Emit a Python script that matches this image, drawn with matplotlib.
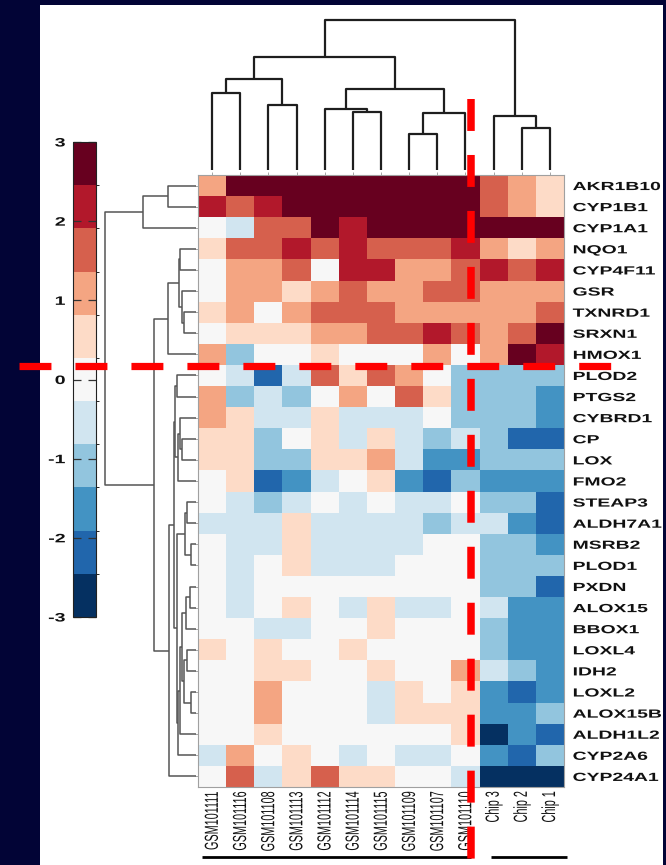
import numpy as np
import matplotlib
matplotlib.use("Agg")
import matplotlib.pyplot as plt
from matplotlib.colors import ListedColormap, BoundaryNorm
from matplotlib.cm import ScalarMappable
from matplotlib.patches import Rectangle
from matplotlib.patheffects import AbstractPathEffect
from matplotlib.transforms import Affine2D

plt.rcParams['font.family'] = ['Liberation Sans', 'DejaVu Sans']
plt.rcParams['lines.scale_dashes'] = False

# ---------------- data ----------------
samples = ["GSM101111", "GSM101116", "GSM101108", "GSM101113", "GSM101112",
           "GSM101114", "GSM101115", "GSM101109", "GSM101107", "GSM101110",
           "Chip 3", "Chip 2", "Chip 1"]
genes = ["AKR1B10", "CYP1B1", "CYP1A1", "NQO1", "CYP4F11", "GSR", "TXNRD1",
         "SRXN1", "HMOX1", "PLOD2", "PTGS2", "CYBRD1", "CP", "LOX", "FMO2",
         "STEAP3", "ALDH7A1", "MSRB2", "PLOD1", "PXDN", "ALOX15", "BBOX1",
         "LOXL4", "IDH2", "LOXL2", "ALOX15B", "ALDH1L2", "CYP2A6", "CYP24A1"]
values = [
    [1.1, 2.7, 2.7, 2.7, 2.7, 2.7, 2.7, 2.7, 2.7, 2.7, 1.6, 1.1, 0.5],
    [2.2, 1.6, 2.2, 2.7, 2.7, 2.7, 2.7, 2.7, 2.7, 2.7, 1.6, 1.1, 0.5],
    [0.0, -0.5, 1.6, 1.6, 2.7, 2.2, 2.7, 2.7, 2.7, 2.7, 2.7, 2.7, 2.7],
    [0.5, 1.6, 1.6, 2.2, 1.6, 2.2, 1.6, 1.6, 1.6, 2.2, 1.1, 0.5, 1.1],
    [0.0, 1.1, 1.1, 1.6, 0.0, 2.2, 2.2, 1.1, 1.1, 1.6, 2.2, 1.6, 2.2],
    [0.0, 1.1, 1.1, 0.5, 1.1, 1.6, 1.1, 1.1, 1.6, 1.6, 1.1, 1.1, 1.1],
    [0.5, 1.1, 0.0, 1.1, 1.6, 1.6, 1.6, 1.1, 1.1, 1.1, 1.1, 1.1, 1.6],
    [0.0, 0.5, 0.5, 0.5, 1.1, 1.1, 1.6, 1.6, 2.2, 1.6, 1.1, 1.6, 2.7],
    [1.1, -1.1, 0.0, 0.0, 0.5, 0.0, 0.0, 0.0, 1.1, 0.0, 1.1, 2.7, 2.2],
    [0.0, -0.5, -2.2, -0.5, 1.6, 0.5, 1.6, 1.1, 0.0, -1.1, -1.1, -1.1, -1.1],
    [1.1, -1.1, -0.5, -1.1, 0.0, 1.1, 0.0, 1.6, 0.5, -1.1, -1.1, -1.1, -1.6],
    [1.1, 0.5, -0.5, -0.5, 0.5, -0.5, -0.5, -0.5, 0.0, -1.1, -1.1, -1.1, -1.6],
    [0.5, 0.5, -1.1, 0.0, 0.5, -0.5, 0.5, -0.5, -1.1, -0.5, -1.1, -2.2, -2.2],
    [0.5, 0.5, -1.1, -1.1, 0.5, 0.5, 1.1, -0.5, -1.6, -1.6, -1.1, -1.1, -1.1],
    [0.0, 0.5, -2.2, -1.6, -0.5, 0.0, 0.5, -1.6, -2.2, -1.1, -1.6, -1.6, -1.6],
    [0.0, -0.5, -1.1, -0.5, 0.0, -0.5, 0.0, -0.5, -0.5, 0.0, -1.1, -1.1, -2.2],
    [-0.5, -0.5, -0.5, 0.5, -0.5, -0.5, -0.5, -0.5, -1.1, -0.5, -0.5, -1.6, -2.2],
    [0.0, -0.5, -0.5, 0.5, -0.5, -0.5, -0.5, -0.5, 0.0, 0.0, -1.1, -1.1, -1.6],
    [0.0, -0.5, 0.0, 0.5, -0.5, -0.5, -0.5, 0.0, 0.0, 0.0, -1.1, -1.1, -1.1],
    [0.0, -0.5, 0.0, 0.0, 0.0, 0.0, 0.0, 0.0, 0.0, 0.0, -1.1, -1.1, -2.2],
    [0.0, -0.5, 0.0, 0.5, 0.0, -0.5, 0.5, -0.5, -0.5, 0.0, -0.5, -1.6, -1.6],
    [0.0, 0.0, -0.5, -0.5, 0.0, 0.0, 0.5, 0.0, 0.0, 0.0, -1.1, -1.6, -1.6],
    [0.5, 0.0, 0.5, 0.0, 0.0, 0.5, 0.0, 0.0, 0.0, 0.0, -1.1, -1.6, -1.6],
    [0.0, 0.0, 0.5, 0.5, 0.0, 0.0, 0.5, 0.0, 0.0, 1.1, -0.5, -1.1, -1.6],
    [0.0, 0.0, 1.1, 0.0, 0.0, 0.0, -0.5, 0.5, 0.0, 0.5, -1.6, -2.2, -1.6],
    [0.0, 0.0, 1.1, 0.0, 0.0, 0.0, -0.5, 0.5, 0.5, 0.5, -1.6, -1.6, -1.1],
    [0.0, 0.0, 0.5, 0.0, 0.0, 0.0, 0.0, 0.0, 0.0, 0.5, -2.7, -1.6, -2.2],
    [-0.5, 1.1, 0.0, 0.5, 0.0, -0.5, 0.0, -0.5, -0.5, 0.0, -1.6, -2.2, -1.1],
    [0.0, 1.6, -0.5, 0.5, 1.6, 0.5, 0.5, 0.0, 0.0, -0.5, -2.7, -2.7, -2.7],
]
# dendrogram merges: (child_a, child_b, height); leaves first, internal nodes numbered after
col_merges = [(0, 1, 77), (2, 3, 65), (13, 14, 91), (5, 6, 58), (4, 16, 61),
              (7, 8, 36), (18, 9, 57), (17, 19, 81), (15, 20, 113),
              (11, 12, 42), (10, 22, 54), (21, 23, 150)]
row_merges = [(0, 1, 28.3), (29, 2, 52.7), (3, 4, 16), (6, 7, 12), (5, 32, 14),
              (31, 33, 17), (34, 8, 28.3), (9, 10, 19.3), (12, 13, 13.7),
              (11, 37, 15.7), (38, 14, 17.7), (36, 39, 21), (15, 16, 9.3),
              (17, 18, 5.3), (41, 42, 11), (19, 20, 6), (44, 21, 10),
              (22, 23, 9.3), (24, 25, 5.3), (46, 47, 12), (45, 48, 13.5),
              (49, 26, 16), (50, 27, 17.5), (43, 51, 19), (40, 52, 22.3),
              (53, 28, 27), (35, 54, 41.7), (30, 55, 91)]
cbar_ticks = [-3, -2, -1, 0, 1, 2, 3]
palette = ["#053061", "#2166ac", "#4393c3", "#92c5de", "#d1e5f0", "#f7f7f7",
           "#fddbc7", "#f4a582", "#d6604d", "#b2182b", "#67001f"]


class Stretch(AbstractPathEffect):
    """Stretch glyph outlines of a text (text stays a Text artist)."""
    def __init__(self, sx=1.0, sy=1.0, xanchor='left', ycenter=False):
        super().__init__()
        self.sx, self.sy, self.xanchor, self.ycenter = sx, sy, xanchor, ycenter

    def draw_path(self, renderer, gc, tpath, affine, rgbFace=None):
        ext = tpath.get_extents()
        x0 = 0.0
        if self.xanchor == 'right':
            x0 = ext.x1
        elif self.xanchor == 'center':
            x0 = 0.5 * (ext.x0 + ext.x1)
        y0 = 0.5 * (ext.y0 + ext.y1) if self.ycenter else 0.0
        t = Affine2D().translate(-x0, -y0).scale(self.sx, self.sy).translate(x0, y0) + affine
        renderer.draw_path(gc, tpath, t, rgbFace)


def dendro_segments(n, merges):
    pos = {i: i + 0.5 for i in range(n)}
    hgt = {i: 0.0 for i in range(n)}
    segs = []
    for k, (a, b, h) in enumerate(merges):
        node = n + k
        segs.append(([pos[a], pos[a], pos[b], pos[b]], [hgt[a], h, h, hgt[b]]))
        pos[node] = 0.5 * (pos[a] + pos[b])
        hgt[node] = h
    return segs


W, H = 666, 865
fig = plt.figure(figsize=(W / 100, H / 100), dpi=100, facecolor="#020436")
fig.patches.append(Rectangle((40 / W, 0), (663 - 40) / W, (H - 5) / H,
                             transform=fig.transFigure, facecolor="white",
                             edgecolor="none", zorder=-10))


def fx(px):
    return px / W


def fy(py):
    return 1 - py / H


nrow, ncol = len(genes), len(samples)
hm_l, hm_r, hm_t, hm_b = 198, 564, 175, 787
hm_rect = [fx(hm_l), fy(hm_b), fx(hm_r - hm_l), (hm_b - hm_t) / H]

# ---- heatmap ----
ax = fig.add_axes(hm_rect)
cmap = ListedColormap(palette)
norm = BoundaryNorm(np.linspace(-3, 3, 12), cmap.N)
ax.pcolormesh(np.arange(ncol + 1), np.arange(nrow + 1), np.array(values),
              cmap=cmap, norm=norm)
ax.set_xlim(0, ncol)
ax.set_ylim(nrow, 0)
for s in ax.spines.values():
    s.set_color("#a0a0a0")
    s.set_linewidth(0.8)
ax.set_xticks(np.arange(ncol) + 0.5)
ax.set_xticklabels(samples, rotation=90, fontsize=7.8)
ax.set_yticks(np.arange(nrow) + 0.5)
ax.set_yticklabels(genes, fontsize=8.5, fontweight='bold')
ax.tick_params(axis='x', top=True, bottom=False, labelbottom=True, labeltop=False,
               length=2, width=0.6, color="#999999", pad=0.8, labelcolor="#111111")
ax.tick_params(axis='y', left=True, right=False, labelleft=False, labelright=True,
               length=2, width=0.6, color="#999999", pad=4.2, labelcolor="#111111")
for lbl in ax.get_yticklabels():
    lbl.set_path_effects([Stretch(sx=1.64)])
for lbl in ax.get_xticklabels():
    lbl.set_path_effects([Stretch(sy=1.75, ycenter=True)])

# ---- column dendrogram ----
axc = fig.add_axes([fx(hm_l), fy(175), fx(hm_r - hm_l), (175 - 5) / H])
for xs, ys in dendro_segments(ncol, col_merges):
    axc.plot(xs, ys, color="#1e1e1e", lw=1.6, solid_capstyle='butt')
axc.set_xlim(0, ncol)
axc.set_ylim(-5, 165)
axc.axis('off')

# ---- row dendrogram ----
axr = fig.add_axes([fx(98), fy(hm_b), fx(100), (hm_b - hm_t) / H])
for ys, xs in dendro_segments(nrow, row_merges):
    axr.plot(xs, ys, color="#555555", lw=1.1, solid_capstyle='butt')
axr.set_xlim(98, -2)
axr.set_ylim(nrow, 0)
axr.axis('off')

# ---- colorbar ----
cax = fig.add_axes([fx(73), fy(617), fx(23), (617 - 142) / H])
sm = ScalarMappable(norm=norm, cmap=cmap)
cb = fig.colorbar(sm, cax=cax, ticks=cbar_ticks)
cb.outline.set_linewidth(0.8)
cb.outline.set_edgecolor("#222222")
cax.set_yticklabels([str(t) for t in cbar_ticks])
cax.tick_params(axis='y', left=True, right=True, labelleft=True, labelright=False,
                direction='in', length=6, width=0.9, color="#333333", pad=5.5,
                labelsize=8.8, labelcolor="#111111")
for lbl in cax.get_yticklabels():
    lbl.set_fontweight('bold')
    lbl.set_path_effects([Stretch(sx=1.6, xanchor='right')])

# ---- overlay (in heatmap cell coordinates) for bars and red guides ----
axo = fig.add_axes(hm_rect, zorder=20)
axo.set_xlim(0, ncol)
axo.set_ylim(nrow, 0)
axo.axis('off')
axo.plot([0.14, 9.7], [32.3, 32.3], color="black", lw=2.0, clip_on=False,
         solid_capstyle='butt')
axo.plot([10.41, 13.1], [32.3, 32.3], color="black", lw=2.0, clip_on=False,
         solid_capstyle='butt')
axo.plot([9.68, 9.68], [-3.6, 33.2], color="#ff0000", lw=5.4, dashes=(23, 17.3),
         clip_on=False, dash_capstyle='butt')
axo.plot([-6.36, 14.68], [9.03, 9.03], color="#ff0000", lw=5.2, dashes=(23, 17.3),
         clip_on=False, dash_capstyle='butt')

fig.savefig("out.png", dpi=100, facecolor=fig.get_facecolor())
